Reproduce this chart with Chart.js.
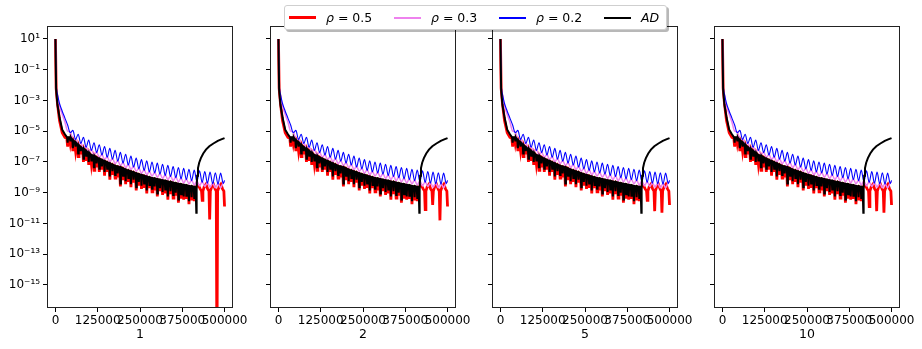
<!DOCTYPE html>
<html>
<head>
<meta charset="utf-8">
<script src="https://cdn.jsdelivr.net/npm/chart.js@4.4.0/dist/chart.umd.min.js"></script>
<style>
  body { margin: 0; background: #fff; overflow: hidden; width: 922px; height: 349px; position: relative; font-family: "DejaVu Sans", sans-serif; }
  canvas { position: absolute; top: 0; }
  #legend { position: absolute; left: 284px; top: 5px; width: 381px; height: 23px; background: #fff;
            border: 1px solid #cfcfcf; border-radius: 3px; box-shadow: 2px 2px 0 rgba(0,0,0,0.28); z-index: 5; }
  .item { position: absolute; top: 0; height: 23px; display: flex; align-items: center; font-size: 12.5px; color: #000; white-space: pre; }
  .item .line { width: 27px; margin-right: 10px; }
</style>
</head>
<body>
<canvas id="p0" width="253" height="349" style="left:0px"></canvas>
<canvas id="p1" width="253" height="349" style="left:223px"></canvas>
<canvas id="p2" width="253" height="349" style="left:445px"></canvas>
<canvas id="p3" width="253" height="349" style="left:667px"></canvas>
<div id="legend"></div>
<script>
// x positions of the rho = 0.2 / 0.3 curves
const xGrid = [0, 2000, 6000, 12000, 20000, 28000,
  36000, 43800, 51600, 59400, 67200, 75000, 82800, 90600, 98400, 106200,
  114000, 121800, 129600, 137400, 145200, 153000, 160800, 168600, 176400, 184200,
  192000, 199800, 207600, 215400, 223200, 231000, 238800, 246600, 254400, 262200,
  270000, 277800, 285600, 293400, 301200, 309000, 316800, 324600, 332400, 340200,
  348000, 355800, 363600, 371400, 379200, 387000, 394800, 402600, 410400, 418200,
  426000, 433800, 441600, 449400, 457200, 465000, 472800, 480600, 488400, 496200, 500000];

// all values are log10 of the error
const blueExp = [1.0, -1.8, -2.6, -3.2, -3.7, -4.15,
  -4.6, -5.1, -4.95, -5.55, -5.2, -5.8, -5.4, -6.05, -5.58, -6.25,
  -5.75, -6.4, -5.88, -6.55, -6.0, -6.7, -6.12, -6.82, -6.25, -6.95,
  -6.38, -7.08, -6.5, -7.2, -6.62, -7.33, -6.75, -7.45, -6.85, -7.55,
  -6.93, -7.65, -7.0, -7.72, -7.08, -7.8, -7.15, -7.88, -7.22, -7.95,
  -7.3, -8.02, -7.36, -8.1, -7.42, -8.15, -7.48, -8.22, -7.53, -8.28,
  -7.58, -8.33, -7.62, -8.38, -7.66, -8.42, -7.7, -8.45, -7.73, -8.4, -8.2];

const pinkExp = [1.0, -1.9, -2.7, -3.35, -3.9, -4.4,
  -5.0, -5.05, -5.55, -5.5, -5.85, -5.75, -6.1, -6.0, -6.35, -6.2,
  -6.55, -6.35, -6.7, -6.5, -6.85, -6.65, -7.0, -6.77, -7.12, -6.9,
  -7.25, -7.03, -7.38, -7.15, -7.5, -7.28, -7.62, -7.4, -7.75, -7.5,
  -7.85, -7.6, -7.93, -7.67, -8.0, -7.75, -8.08, -7.83, -8.16, -7.9,
  -8.23, -7.97, -8.3, -8.05, -8.37, -8.1, -8.43, -8.17, -8.5, -8.23,
  -8.56, -8.28, -8.6, -8.33, -8.65, -8.37, -8.68, -8.4, -8.68, -8.35, -8.3];

// AD and rho = 0.5: steep start, then a band with downward spikes at xGrid[6..54]
const startX = [0, 2000, 6000, 12000, 20000, 28000];
const adStartExp = [1.0, -2.3, -3.3, -4.1, -4.9, -5.2];
const redStartExp = [1.0, -2.2, -3.2, -4.3, -5.1, -5.4];
const spikeX = xGrid.slice(6, 55);

const adTopExp = [-5.4, -5.4, -5.6, -5.75, -5.9, -6.05, -6.15, -6.3, -6.4, -6.55,
  -6.6, -6.72, -6.8, -6.88, -6.95, -7.03, -7.1, -7.18, -7.25, -7.3,
  -7.35, -7.43, -7.5, -7.56, -7.62, -7.68, -7.75, -7.8, -7.85, -7.9,
  -7.95, -8.0, -8.05, -8.08, -8.12, -8.16, -8.2, -8.23, -8.27, -8.3,
  -8.35, -8.38, -8.42, -8.45, -8.49, -8.52, -8.56, -8.58, -8.62];
const adSpikeExp = [-5.75, -5.6, -6.1, -6.0, -6.45, -6.3, -6.8, -6.6, -7.0, -6.9,
  -7.35, -7.1, -7.45, -7.3, -7.65, -7.45, -7.95, -7.6, -7.85, -7.75,
  -8.4, -7.9, -8.25, -8.05, -8.45, -8.15, -8.65, -8.3, -8.55, -8.4,
  -8.85, -8.5, -8.75, -8.6, -9.05, -8.7, -8.95, -8.8, -9.25, -8.9,
  -9.15, -9.0, -9.45, -9.1, -9.25, -9.2, -9.55, -9.3, -9.35];

const redTopExp = [-5.45, -5.45, -5.65, -5.8, -5.95, -6.1, -6.2, -6.35, -6.45, -6.6,
  -6.65, -6.77, -6.85, -6.93, -7.0, -7.08, -7.15, -7.23, -7.3, -7.35,
  -7.4, -7.48, -7.55, -7.61, -7.67, -7.73, -7.8, -7.85, -7.9, -7.95,
  -8.0, -8.05, -8.1, -8.13, -8.17, -8.21, -8.25, -8.28, -8.32, -8.35,
  -8.4, -8.43, -8.47, -8.5, -8.54, -8.57, -8.61, -8.63, -8.67];
const redSpikeExp = [-6.0, -5.8, -6.3, -6.25, -6.65, -6.5, -7.0, -6.85, -7.2, -7.1,
  -7.55, -7.35, -7.65, -7.5, -7.9, -7.65, -8.15, -7.85, -8.05, -8.0,
  -8.6, -8.1, -8.45, -8.3, -8.65, -8.35, -8.85, -8.55, -8.75, -8.6,
  -9.05, -8.7, -8.95, -8.85, -9.25, -8.9, -9.15, -9.05, -9.45, -9.1,
  -9.35, -9.2, -9.65, -9.3, -9.45, -9.4, -9.75, -9.5, -9.55];

// AD after the break-away point
const adTailX = [414500, 416500, 417500, 419000, 421500, 425000, 430000, 437000, 445000, 455000, 467000, 480000, 492000, 500000];
const adTailExp = [-8.65, -10.3, -8.8, -7.9, -7.4, -7.05, -6.75, -6.45, -6.2, -5.98, -5.8, -5.63, -5.52, -5.45];

// rho = 0.5 tail: shared shape, the deep dips (null slots) differ per panel
const redTailX = [422000, 428000, 432000, 434000, 436000, 440000, 445000, 450000, 454000, 456000, 458000,
  462000, 467000, 472000, 475500, 477500, 479500, 484000, 489000, 494000, 498000, 500000];
const redTailBase = [-8.5, -8.75, -8.9, null, -8.9, -8.6, -8.45, -8.75, -8.9, null, -8.9,
  -8.6, -8.45, -8.75, -8.9, null, -8.9, -8.6, -8.45, -8.75, -8.9, null];
const redDips1 = [-9.5, -10.75, -20, -9.9];
const redDips2 = [-10.1, -9.8, -10.8, -9.9];
const redDips5 = [-9.5, -10.2, -10.3, -9.8];
const redDips10 = [-9.9, -10.2, -10.3, -9.8];

const panelLabels = ['1', '2', '5', '10'];
const xTicks = [0, 125000, 250000, 375000, 500000];
const yTickExp = [1, -1, -3, -5, -7, -9, -11, -13, -15];

const seriesNames = ['ρ|0.5', 'ρ|0.3', 'ρ|0.2', 'AD'];
const seriesColors = ['#ff0000', '#ee82ee', '#0000ff', '#000000'];
const seriesWidths = [2.8, 1.5, 1.1, 2];
const legendWidths = [3, 2, 2, 2];

function pts(xs, exps) {
  const out = [];
  for (let i = 0; i < Math.min(xs.length, exps.length); i++) out.push({ x: xs[i], y: Math.pow(10, exps[i]) });
  return out;
}

// each spike is drawn as a narrow needle: band top, spike value, band top
function needles(tops, spikes, half) {
  const out = [];
  spikeX.forEach((x, i) => {
    out.push({ x: x - half, y: Math.pow(10, tops[i]) });
    out.push({ x: x, y: Math.pow(10, spikes[i]) });
    out.push({ x: x + half, y: Math.pow(10, tops[i]) });
  });
  return out;
}

function redTail(dips) {
  let k = 0;
  return redTailBase.map((v) => (v === null ? dips[k++] : v));
}

const supMap = { '-': '⁻', '0': '⁰', '1': '¹', '2': '²', '3': '³', '4': '⁴', '5': '⁵', '6': '⁶', '7': '⁷', '8': '⁸', '9': '⁹' };
const sup = (n) => String(n).split('').map((c) => supMap[c]).join('');

// matplotlib style frame on all four sides
const framePlugin = {
  id: 'frame',
  afterDatasetsDraw(chart) {
    const { ctx, chartArea: a } = chart;
    ctx.save();
    ctx.strokeStyle = '#222';
    ctx.lineWidth = 1;
    ctx.strokeRect(Math.round(a.left) + 0.5, Math.round(a.top) + 0.5,
      Math.round(a.right - a.left) - 1, Math.round(a.bottom - a.top) - 1);
    ctx.restore();
  },
};

const font = { family: '"DejaVu Sans", sans-serif' };

function initPanel(idx, dips) {
  const red = pts(startX, redStartExp)
    .concat(needles(redTopExp, redSpikeExp, 2400))
    .concat(pts(redTailX, redTail(dips)));
  const ad = pts(startX, adStartExp)
    .concat(needles(adTopExp, adSpikeExp, 1600))
    .concat(pts(adTailX, adTailExp));
  const data = [red, pts(xGrid, pinkExp), pts(xGrid, blueExp), ad];

  const datasets = data.map((d, i) => ({
    label: seriesNames[i],
    data: d,
    borderColor: seriesColors[i],
    borderWidth: seriesWidths[i],
    pointRadius: 0,
    fill: false,
    tension: 0,
    cubicInterpolationMode: i === 1 || i === 2 ? 'monotone' : 'default',
    order: 4 - i, // AD on top, rho = 0.5 at the back
  }));

  const ctx = document.getElementById('p' + idx).getContext('2d');
  return new Chart(ctx, {
    type: 'line',
    data: { datasets },
    options: {
      responsive: false,
      animation: false,
      devicePixelRatio: 1,
      layout: { padding: { top: 26, right: 20, left: 0, bottom: 0 } },
      plugins: { legend: { display: false }, tooltip: { enabled: false } },
      scales: {
        x: {
          type: 'linear',
          min: -25000,
          max: 525000,
          bounds: 'data',
          afterBuildTicks: (s) => { s.ticks = xTicks.map((v) => ({ value: v })); },
          afterFit: (s) => { s.height = 41; },
          grid: { drawOnChartArea: false, drawTicks: true, tickLength: 4, color: '#000' },
          border: { display: false },
          ticks: {
            autoSkip: false, maxRotation: 0, minRotation: 0, padding: 2, color: '#000',
            font: { ...font, size: 12 },
            callback: (v) => String(v),
          },
          title: { display: true, text: panelLabels[idx], color: '#000', font: { ...font, size: 12.5 }, padding: { top: 0, bottom: 7 } },
        },
        y: {
          type: 'logarithmic',
          min: Math.pow(10, -16.5),
          max: Math.pow(10, 1.84),
          bounds: 'data',
          afterBuildTicks: (s) => { s.ticks = yTickExp.map((e) => ({ value: Math.pow(10, e) })); },
          afterFit: (s) => { s.width = 47; },
          grid: { drawOnChartArea: false, drawTicks: true, tickLength: 4, color: '#000' },
          border: { display: false },
          ticks: {
            display: idx === 0,
            autoSkip: false, padding: 3, color: '#000',
            font: { ...font, size: 12 },
            callback: (v) => '10' + sup(Math.round(Math.log10(v))),
          },
        },
      },
    },
    plugins: [framePlugin],
  });
}

const panelDips = [redDips1, redDips2, redDips5, redDips10];
panelLabels.forEach((_, i) => initPanel(i, panelDips[i]));

// legend
const legendLeft = [4, 109, 214, 319];
const legend = document.getElementById('legend');
seriesNames.forEach((name, i) => {
  const item = document.createElement('div');
  item.className = 'item';
  item.style.left = legendLeft[i] + 'px';
  const line = document.createElement('div');
  line.className = 'line';
  line.style.height = legendWidths[i] + 'px';
  line.style.background = seriesColors[i];
  item.appendChild(line);
  const text = document.createElement('span');
  if (name.includes('|')) {
    const [sym, val] = name.split('|');
    text.innerHTML = '<i>' + sym + '</i> = ' + val;
  } else {
    text.innerHTML = '<i>' + name + '</i>';
  }
  item.appendChild(text);
  legend.appendChild(item);
});
</script>
</body>
</html>
